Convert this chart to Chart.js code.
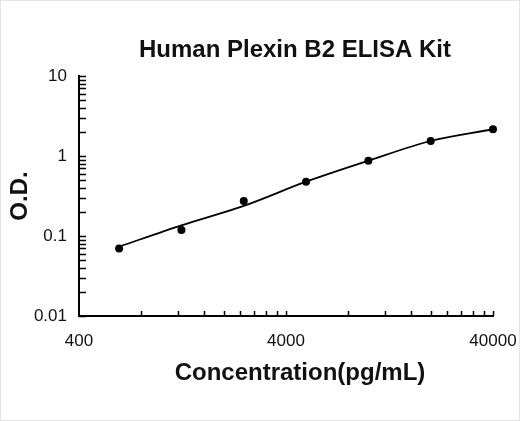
<!DOCTYPE html>
<html>
<head>
<meta charset="utf-8">
<script src="https://cdn.jsdelivr.net/npm/chart.js@4"></script>
<style>
  html, body { margin: 0; padding: 0; background: #fff; }
  #wrap { width: 520px; height: 421px; position: relative; }
</style>
</head>
<body>
<div id="wrap"><canvas id="curve"></canvas></div>
<script>
// standard curve
const concentration = [625, 1250, 2500, 5000, 10000, 20000, 40000];
const odMeasured = [0.070, 0.119, 0.274, 0.477, 0.873, 1.54, 2.16];
const odFitted = [0.0735, 0.136, 0.238, 0.477, 0.873, 1.54, 2.16];

const xDecades = [400, 4000];
const yDecades = [0.01, 0.1, 1];
const xTickLabels = [400, 4000, 40000];
const yTickLabels = [0.01, 0.1, 1, 10];

const chartTitle = 'Human Plexin B2 ELISA Kit';
const xTitle = 'Concentration(pg/mL)';
const yTitle = 'O.D.';

// minor ticks: 1..9 times each decade, plus the top end
function decadeTicks(decades){
  let out = [];
  decades.forEach(function(d){
    for(let k = 1; k < 10; k++) out.push(d * k);
  });
  out.push(decades[decades.length - 1] * 10);
  return out;
}
const xTicks = decadeTicks(xDecades);
const yTicks = decadeTicks(yDecades);

const FONT = "'Liberation Sans', Arial, sans-serif";

// ticks drawn inside the axes + the two titles that sit off-centre
const insideTicks = {
  id: 'insideTicks',
  beforeDraw(chart){
    const c = chart.ctx;
    c.save();
    c.fillStyle = '#fff';
    c.fillRect(0, 0, chart.width, chart.height);
    c.strokeStyle = '#e4e4e4';
    c.lineWidth = 1;
    c.strokeRect(0.5, 0.5, chart.width - 1, chart.height - 1);
    c.restore();
  },
  afterDraw(chart){
    const c = chart.ctx;
    const area = chart.chartArea;
    const x = chart.scales.x, y = chart.scales.y;
    c.save();
    c.strokeStyle = '#000';
    c.lineWidth = 1.5;
    c.beginPath();
    x.ticks.forEach(function(t){
      if(t.value === xTicks[0]) return;
      const px = Math.round(x.getPixelForValue(t.value)) + 0.5;
      c.moveTo(px, area.bottom);
      c.lineTo(px, area.bottom - 5);
    });
    y.ticks.forEach(function(t){
      const py = Math.round(y.getPixelForValue(t.value)) + 0.5;
      c.moveTo(area.left, py);
      c.lineTo(area.left + 7, py);
    });
    c.stroke();

    c.fillStyle = '#111';
    c.textAlign = 'center';
    c.textBaseline = 'middle';
    c.font = 'bold 24px ' + FONT;
    c.fillText(chartTitle, 295, 50);
    c.fillText(xTitle, 300, 373);
    c.restore();
  }
};

const ctx = document.getElementById('curve').getContext('2d');
const myChart = new Chart(ctx, {
  type: 'line',
  data: {
    datasets: [
      {
        label: 'fit',
        data: concentration.map(function(c, i){ return {x: c, y: odFitted[i]}; }),
        borderColor: '#000',
        borderWidth: 1.8,
        pointRadius: 0,
        cubicInterpolationMode: 'monotone',
        fill: false,
        clip: false
      },
      {
        label: 'measured',
        data: concentration.map(function(c, i){ return {x: c, y: odMeasured[i]}; }),
        showLine: false,
        pointRadius: 4,
        pointBackgroundColor: '#000',
        pointBorderWidth: 0,
        clip: false
      }
    ]
  },
  options: {
    responsive: true,
    maintainAspectRatio: false,
    animation: false,
    layout: { padding: { top: 76, right: 27, bottom: 0, left: 0 } },
    plugins: {
      legend: { display: false },
      title: { display: false },
      tooltip: { enabled: false }
    },
    scales: {
      x: {
        type: 'logarithmic',
        min: 400,
        max: 40000,
        grid: { display: false, drawTicks: false },
        border: { display: true, color: '#000', width: 2 },
        afterBuildTicks: function(scale){
          scale.ticks = xTicks.map(function(v){ return {value: v}; });
        },
        afterFit: function(scale){
          scale.height = 105;
          scale.paddingLeft = 0;
          scale.paddingRight = 0;
        },
        ticks: {
          autoSkip: false,
          maxRotation: 0,
          padding: 15,
          color: '#111',
          font: { family: FONT, size: 17 },
          callback: function(v){ return xTickLabels.includes(v) ? String(v) : ''; }
        }
      },
      y: {
        type: 'logarithmic',
        min: 0.01,
        max: 10,
        grid: { display: false, drawTicks: false },
        border: { display: true, color: '#000', width: 2 },
        afterBuildTicks: function(scale){
          scale.ticks = yTicks.map(function(v){ return {value: v}; });
        },
        afterFit: function(scale){
          scale.width = 79;
          scale.paddingTop = 0;
          scale.paddingBottom = 0;
        },
        title: {
          display: true,
          text: yTitle,
          color: '#111',
          font: { family: FONT, size: 24, weight: 'bold' },
          padding: { top: 6, bottom: 0 }
        },
        ticks: {
          autoSkip: false,
          padding: 12,
          color: '#111',
          font: { family: FONT, size: 17 },
          callback: function(v){ return yTickLabels.includes(v) ? String(v) : ''; }
        }
      }
    }
  },
  plugins: [insideTicks]
});
</script>
</body>
</html>
